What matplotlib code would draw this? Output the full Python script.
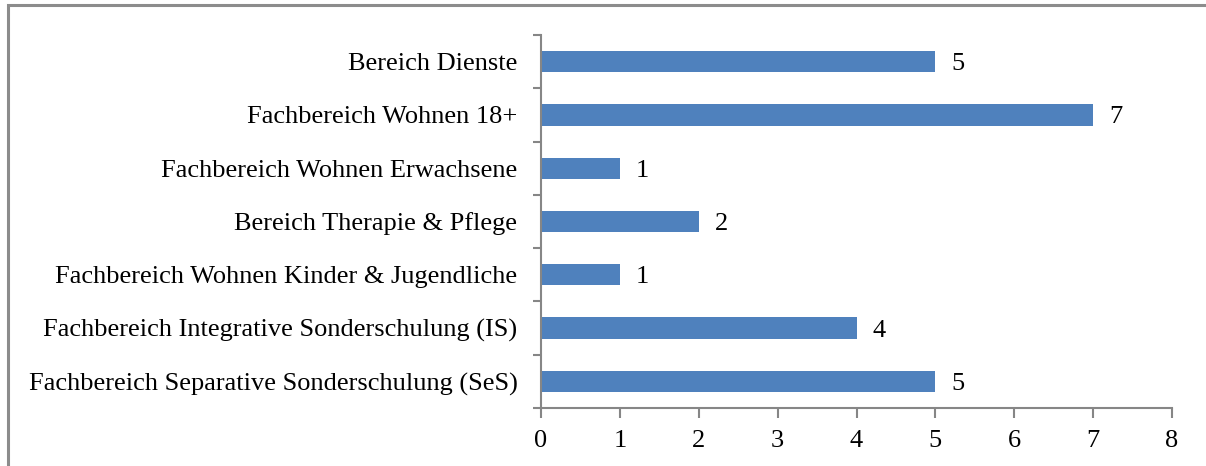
import matplotlib
matplotlib.use("Agg")
import matplotlib.pyplot as plt
from matplotlib.patches import Rectangle

## données du graphique (de bas en haut)
bereiche = [
    "Fachbereich Separative Sonderschulung (SeS)",
    "Fachbereich Integrative Sonderschulung (IS)",
    "Fachbereich Wohnen Kinder & Jugendliche",
    "Bereich Therapie & Pflege",
    "Fachbereich Wohnen Erwachsene",
    "Fachbereich Wohnen 18+",
    "Bereich Dienste",
]
anzahl = [5, 4, 1, 2, 1, 7, 5]
x_ticks = [0, 1, 2, 3, 4, 5, 6, 7, 8]

plt.rcParams['font.family'] = ['Liberation Serif', 'DejaVu Serif']
grau = '#868686'
fs = 19

fig = plt.figure(figsize=(12.06, 4.66), dpi=100)
ax = fig.add_axes([0.4486, 0.1245, 0.9718 - 0.4486, 0.9249 - 0.1245])

pos = list(range(len(bereiche)))
ax.barh(pos, anzahl, height=0.4, color='#4f81bd')

## étiquettes des valeurs
for p, v in zip(pos, anzahl):
    ax.text(v + 0.2, p, str(v), va='center_baseline', ha='left', fontsize=fs)

ax.set_xlim(0, 8)
ax.set_ylim(-0.5, len(bereiche) - 0.5)
ax.set_xticks(x_ticks)
ax.set_xticklabels([str(t) for t in x_ticks], fontsize=fs)
ax.set_yticks(pos)
ax.set_yticklabels(bereiche, fontsize=fs, va='center_baseline')
ax.tick_params(axis='y', length=0, pad=17)
ax.set_yticks([p - 0.5 for p in pos] + [len(bereiche) - 0.5], minor=True)
ax.tick_params(axis='y', which='minor', length=6, color=grau, width=1.5, direction='out')
ax.tick_params(axis='x', length=7, color=grau, width=1.5, direction='out', pad=9)

for s in ['top', 'right']:
    ax.spines[s].set_visible(False)
for s in ['left', 'bottom']:
    ax.spines[s].set_color(grau)
    ax.spines[s].set_linewidth(1.5)

## cadre gris autour du graphique
fig.patches.append(Rectangle((7.5 / 1206, -0.1), 1.2, 1.1 - 5.5 / 466,
                             transform=fig.transFigure, fill=False,
                             edgecolor='#8c8c8c', linewidth=2.2))

fig.savefig('out.png', dpi=100)
